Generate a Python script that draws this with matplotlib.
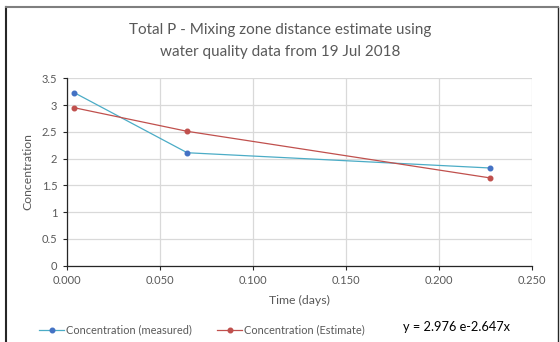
import matplotlib
matplotlib.use("Agg")
import matplotlib.pyplot as plt
from matplotlib.lines import Line2D

time_days = [0.004, 0.0646, 0.2273]
measured = [3.23, 2.11, 1.825]
estimate = [2.95, 2.51, 1.64]
x_ticks = [0.0, 0.05, 0.10, 0.15, 0.20, 0.25]
y_ticks = [0, 0.5, 1, 1.5, 2, 2.5, 3, 3.5]

plt.rcParams['font.family'] = ['Lato', 'DejaVu Sans']
gray = '#595959'

fig = plt.figure(figsize=(5.6, 3.42), dpi=100)
ax = fig.add_axes([0.1196, 0.2231, 0.8309, 0.5479])

ax.plot(time_days, measured, color='#4bacc6', lw=0.9, marker='o', ms=3.3,
        mfc='#4472c4', mec='#4472c4', label='Concentration (measured)', zorder=3)
ax.plot(time_days, estimate, color='#c0504d', lw=0.9, marker='o', ms=3.3,
        mfc='#c0504d', mec='#c0504d', label='Concentration (Estimate)', zorder=3)

ax.set_xlim(0, 0.25)
ax.set_ylim(0, 3.5)
ax.set_xticks(x_ticks)
ax.set_xticklabels([f"{v:.3f}" for v in x_ticks])
ax.set_yticks(y_ticks)
ax.set_yticklabels([f"{v:g}" for v in y_ticks])
ax.grid(True, color='#d9d9d9', lw=0.9)
ax.set_axisbelow(True)
for s in ['top', 'right']:
    ax.spines[s].set_visible(False)
for s in ['left', 'bottom']:
    ax.spines[s].set_color('#262626')
    ax.spines[s].set_linewidth(0.9)
ax.tick_params(axis='both', labelsize=8, colors=gray, length=3, width=0.8, pad=4)
ax.tick_params(axis='both', color='#262626')
ax.set_xlabel('Time (days)', fontsize=8.8, color=gray, labelpad=6)
ax.set_ylabel('Concentration', fontsize=8.8, color=gray, labelpad=6)

fig.text(0.5, 0.88, 'Total P - Mixing zone distance estimate using\nwater quality data from 19 Jul 2018',
         ha='center', va='center', fontsize=11, color=gray, linespacing=1.8)

leg = fig.legend(loc='center left', bbox_to_anchor=(0.07, 0.035), ncol=2, frameon=False,
                 fontsize=7.9, handlelength=2.3, columnspacing=2.3, handletextpad=0.15,
                 borderpad=0, borderaxespad=0)
for t in leg.get_texts():
    t.set_color(gray)

fig.text(0.816, 0.044, 'y = 2.976 e-2.647x', ha='center', va='center', fontsize=9.2, color='black')

# outer chart border
fig.add_artist(Line2D([6/560, 6/560], [0, 1 - 7/342], transform=fig.transFigure, color='#262626', lw=1.5))
fig.add_artist(Line2D([558/560, 558/560], [0, 1 - 7/342], transform=fig.transFigure, color='#262626', lw=1.0))
fig.add_artist(Line2D([6/560, 558/560], [1 - 7/342, 1 - 7/342], transform=fig.transFigure, color='#7f7f7f', lw=1.5))

fig.savefig('out.png', dpi=100)
